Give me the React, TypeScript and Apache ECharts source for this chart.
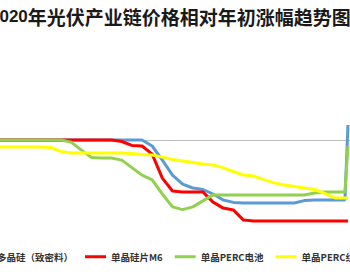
import React, { useEffect, useRef } from "react";
import * as echarts from "echarts";

const titleYear = "2020";
const titleRest = "年光伏产业链价格相对年初涨幅趋势图";
const seriesNames = ["多晶硅（致密料）", "单晶硅片M6", "单晶PERC电池", "单晶PERC组件"];
const seriesColors = ["#5B9BD5", "#FF0000", "#92D050", "#FFFF00"];

// week index since start of year (last point: a few days later)
const weeks = [
  0, 1, 2, 3, 4, 5, 6, 7, 8, 9, 10, 11, 12, 13, 14, 15, 16, 17, 18, 19, 20,
  21, 22, 23, 24, 25, 26, 27, 28, 29, 30, 31, 32, 33, 34, 34.3,
];

// change vs start of year, %
const polySilicon = [
  0, 0, 0, 0, 0, 0, 0, 0, 0, 0, 0, 0, 0, 0, 0,
  -2.0, -6.7, -11.7, -14.7, -16.0, -16.5, -18.0, -20.0, -20.8, -21.0,
  -21.0, -21.0, -21.0, -21.0, -21.0, -20.2, -20.0, -20.0, -20.0, -20.0, 5,
];
const waferM6 = [
  0, 0, 0, 0, 0, 0, 0, 0, 0, 0, 0, 0,
  -0.5, -1.8, -2.0, -4.7, -12.7, -17.0, -17.3, -17.3, -17.3, -20.7, -22.7, -23.3, -26.7,
  -27.0, -27.0, -27.0, -27.0, -27.0, -27.0, -27.0, -27.0, -27.0, -27.0, -27.0,
];
const percCell = [
  0, 0, 0, 0, 0, 0, 0,
  -0.7, -3.3, -5.8, -6.0, -6.0, -6.7, -9.2, -11.7, -13.3, -18.0, -22.3, -23.2, -22.3, -20.3,
  -18.3, -18.3, -18.3, -18.3, -18.3, -18.3, -18.3, -18.3, -18.3, -18.3,
  -17.7, -17.3, -17.3, -17.3, -2,
];
const module = [
  -2.3, -2.3, -2.3, -2.3, -2.3, -2.5, -3.8,
  -4.3, -4.3, -4.3, -4.3, -4.3, -4.3,
  -4.5, -4.8, -5.0, -5.7, -6.5, -7.0, -7.5, -8.0, -8.3, -9.3, -10.5, -11.7,
  -12.0, -13.2, -14.3, -15.0, -15.5, -16.0, -16.5, -17.8, -19.3, -19.3, -19.3,
];

const allSeries = [polySilicon, waferM6, percCell, module];

export default function App() {
  const ref = useRef<HTMLDivElement>(null);
  useEffect(() => {
    if (!ref.current) return;
    const chart = echarts.init(ref.current, null, { renderer: "svg" });
    chart.setOption({
      animation: false,
      backgroundColor: "#ffffff",
      title: {
        text: `{y|${titleYear}}{c|${titleRest}}`,
        left: -10,
        top: 4,
        padding: 0,
        textStyle: {
          rich: {
            y: {
              fontFamily: "'Liberation Sans Narrow', 'Liberation Sans', sans-serif",
              fontWeight: "bold",
              fontSize: 17,
              color: "#1a1a1a",
              lineHeight: 24,
            },
            c: {
              fontFamily: "'Noto Sans CJK SC', sans-serif",
              fontWeight: "bold",
              fontSize: 19,
              color: "#1a1a1a",
              lineHeight: 24,
            },
          },
        },
      },
      legend: {
        left: -29,
        top: 252,
        width: 500,
        padding: 0,
        itemGap: 12,
        itemWidth: 21,
        itemHeight: 3,
        icon: "rect",
        textStyle: {
          fontFamily: "'Noto Sans CJK SC', sans-serif",
          fontSize: 9.5,
          fontWeight: "bold",
          color: "#333333",
        },
        data: seriesNames,
      },
      grid: { left: -10, right: -2.25, top: 68, bottom: 27 },
      xAxis: {
        type: "value",
        min: 0,
        max: 34.5,
        axisLine: { show: true, onZero: true, lineStyle: { color: "#BFBFBF", width: 1 } },
        axisTick: { show: false },
        axisLabel: { show: false },
        splitLine: { show: false },
      },
      yAxis: {
        type: "value",
        min: -36,
        max: 24,
        show: false,
        splitLine: { show: false },
      },
      series: allSeries.map((vals, i) => ({
        name: seriesNames[i],
        type: "line",
        data: vals.map((v, k) => [weeks[k], v]),
        showSymbol: false,
        symbol: "none",
        lineStyle: { color: seriesColors[i], width: 3 },
        itemStyle: { color: seriesColors[i] },
        z: 2 + i,
      })),
    });
    return () => chart.dispose();
  }, []);
  return (
    <div
      ref={ref}
      style={{ position: "absolute", left: 0, top: 0, width: 350, height: 275 }}
    />
  );
}
